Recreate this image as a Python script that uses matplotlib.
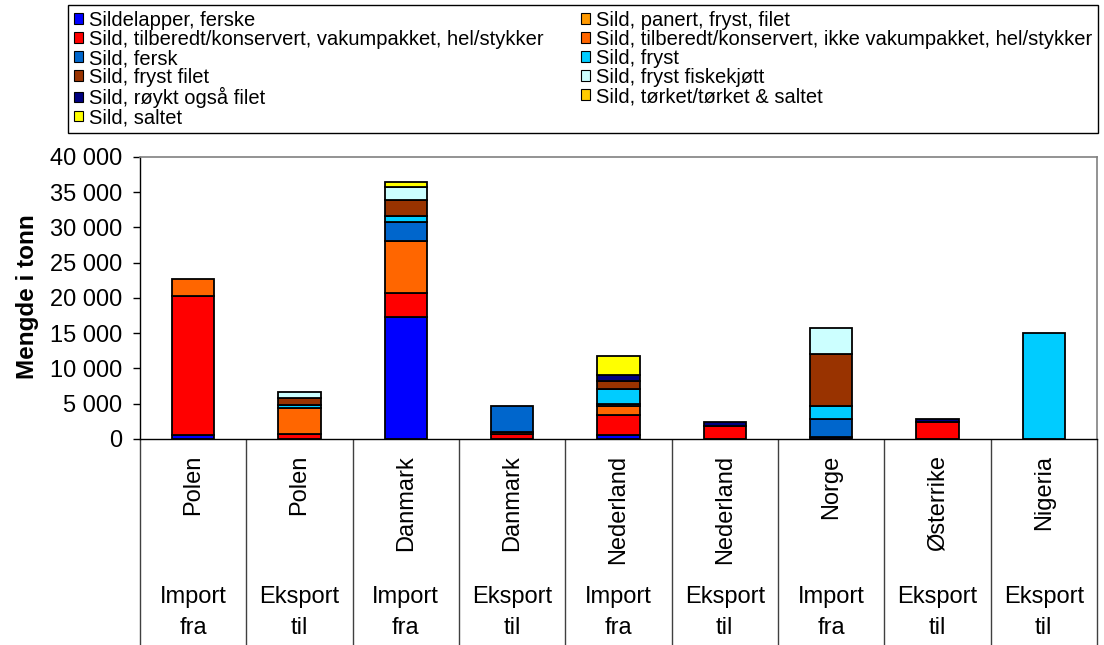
import numpy as np
import matplotlib.pyplot as plt
from matplotlib.patches import Patch

plt.rcParams['font.family'] = ['Liberation Sans', 'DejaVu Sans']

# categories
countries = ["Polen", "Polen", "Danmark", "Danmark", "Nederland", "Nederland",
             "Norge", "Østerrike", "Nigeria"]
flow_top = ["Import", "Eksport", "Import", "Eksport", "Import", "Eksport",
            "Import", "Eksport", "Eksport"]
flow_bottom = ["fra", "til", "fra", "til", "fra", "til", "fra", "til", "til"]

series_names = [
    "Sildelapper, ferske",
    "Sild, panert, fryst, filet",
    "Sild, tilberedt/konservert, vakumpakket, hel/stykker",
    "Sild, tilberedt/konservert, ikke vakumpakket, hel/stykker",
    "Sild, fersk",
    "Sild, fryst",
    "Sild, fryst filet",
    "Sild, fryst fiskekjøtt",
    "Sild, røykt også filet",
    "Sild, tørket/tørket & saltet",
    "Sild, saltet",
]
series_colors = ["#0000FF", "#FF9900", "#FF0000", "#FF6600", "#0066CC", "#00CCFF",
                 "#993300", "#CCFFFF", "#000080", "#FFCC00", "#FFFF00"]

# tonn
sildelapper = [500, 0, 17350, 0, 550, 0, 250, 0, 0]
panert = [0, 0, 0, 0, 0, 0, 0, 0, 0]
vakumpakket = [19800, 650, 3400, 650, 2850, 1800, 0, 2450, 0]
ikke_vakum = [2400, 3800, 7350, 400, 1300, 0, 0, 0, 0]
fersk = [0, 0, 2700, 3650, 250, 0, 2600, 0, 0]
fryst = [0, 350, 900, 0, 2100, 0, 1800, 0, 15000]
fryst_filet = [0, 1050, 2200, 0, 1200, 0, 7400, 0, 0]
fiskekjott = [0, 750, 1800, 0, 0, 0, 3700, 0, 0]
royk = [0, 0, 0, 0, 870, 600, 0, 450, 0]
torket = [0, 0, 0, 0, 0, 0, 0, 0, 0]
saltet = [0, 0, 700, 0, 2650, 0, 0, 0, 0]

series_values = [sildelapper, panert, vakumpakket, ikke_vakum, fersk, fryst,
                 fryst_filet, fiskekjott, royk, torket, saltet]

fig = plt.figure(figsize=(11.04, 6.45), dpi=100)
ax = fig.add_axes([0.1268, 0.3194, 0.8668, 0.4372])

x = np.arange(len(countries))
bottom = np.zeros(len(countries))
for vals, color in zip(series_values, series_colors):
    vals = np.array(vals, dtype=float)
    m = vals > 0
    ax.bar(x[m], vals[m], 0.4, bottom=bottom[m], color=color,
           edgecolor='black', linewidth=1.3)
    bottom += vals

ax.set_xlim(-0.5, len(countries) - 0.5)
ax.set_ylim(0, 40000)
yt = np.arange(0, 40001, 5000)
ax.set_yticks(yt)
ax.set_yticklabels([f"{v:,}".replace(",", " ") for v in yt])
ax.set_xticks([])
ax.tick_params(axis='y', direction='out', length=5, width=1, labelsize=17, pad=8)

for s in ['top', 'right']:
    ax.spines[s].set_color('#808080')
    ax.spines[s].set_linewidth(1.2)
for s in ['left', 'bottom']:
    ax.spines[s].set_color('black')
    ax.spines[s].set_linewidth(1)

# category table below the axis
trans = ax.get_xaxis_transform()
ax.vlines(np.arange(len(countries) + 1) - 0.5, -0.74, 0, transform=trans,
          colors='#404040', linewidth=1, clip_on=False)
for i in range(len(countries)):
    ax.text(i, -0.057, countries[i], rotation=90, ha='center', va='top',
            fontsize=17, transform=trans)
    ax.text(i, -0.56, flow_top[i], ha='center', va='center',
            fontsize=17, transform=trans)
    ax.text(i, -0.67, flow_bottom[i], ha='center', va='center',
            fontsize=17, transform=trans)

fig.text(28 / 1104, 1 - 297 / 645, "Mengde i tonn", rotation=90, ha='center',
         va='center', fontsize=17.5, fontweight='bold')

# legend, row-major order in two columns
handles = [Patch(facecolor=c, edgecolor='black', linewidth=0.8) for c in series_colors]
order = [0, 2, 4, 6, 8, 10, 1, 3, 5, 7, 9]
leg = fig.legend([handles[i] for i in order], [series_names[i] for i in order],
                 loc='upper left', bbox_to_anchor=(0.0616, 0.7907, 0.933, 0.2015),
                 mode='expand', ncol=2, fontsize=14.5, frameon=True,
                 fancybox=False, edgecolor='black', framealpha=1,
                 handlelength=0.45, handleheight=0.45, handletextpad=0.3,
                 labelspacing=0.0, borderpad=0.3, borderaxespad=0,
                 columnspacing=1.0)
leg.get_frame().set_linewidth(1)

fig.savefig('out.png', dpi=100)
